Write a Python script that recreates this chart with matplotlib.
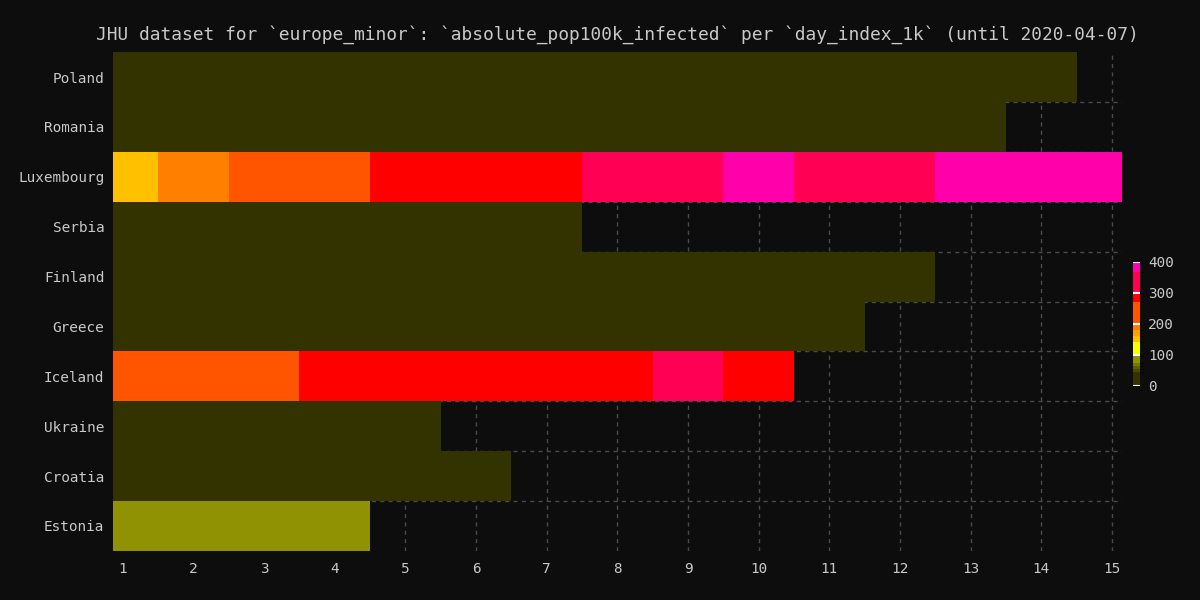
# %% Imports:
import matplotlib
matplotlib.use('Agg')
import matplotlib.pyplot as plt
from matplotlib.colors import ListedColormap, BoundaryNorm
import numpy as np

# Data:
countries = ['Poland', 'Romania', 'Luxembourg', 'Serbia', 'Finland',
             'Greece', 'Iceland', 'Ukraine', 'Croatia', 'Estonia']
days = np.arange(1, 16)

poland = [2, 3, 4, 5, 7, 9, 11, 14, 17, 20, 24, 28, 32, 36]
romania = [2, 3, 4, 6, 8, 10, 13, 16, 19, 23, 27, 31, 35]
luxembourg = [150, 190, 230, 240, 280, 290, 295, 320, 330, 380, 330, 340, 385, 390, 395]
serbia = [3, 5, 8, 12, 17, 22, 28]
finland = [4, 6, 8, 10, 13, 15, 18, 21, 24, 27, 30, 33]
greece = [4, 6, 8, 10, 11, 13, 14, 15, 16, 17, 18]
iceland = [210, 225, 240, 275, 285, 290, 295, 298, 310, 295]
ukraine = [1, 2, 3, 4, 5]
croatia = [8, 12, 16, 20, 24, 28]
estonia = [80, 82, 85, 88]

series = [poland, romania, luxembourg, serbia, finland,
          greece, iceland, ukraine, croatia, estonia]

# colour steps of the palette (value bounds and colours)
bounds = [0, 45, 55, 65, 75, 95, 140, 160, 180, 200, 270, 300, 365, 400]
colors = ['#333300', '#4a4a00', '#5f5f00', '#777700', '#919104', '#ffff00',
          '#ffc000', '#ffa000', '#ff8000', '#ff5500', '#ff0000', '#ff0055', '#ff00aa']

# %% Plotting:
bg = '#0d0d0d'
fg = '#c8c8c8'
fsize = 10.4
plt.rcParams['font.family'] = ['DejaVu Sans Mono']

grid = np.full((len(countries), len(days)), np.nan)
for i, s in enumerate(series):
    grid[i, :len(s)] = s
grid = np.ma.masked_invalid(grid)

cmap = ListedColormap(colors)
norm = BoundaryNorm(bounds, cmap.N)

fig = plt.figure(figsize=(12, 6), dpi=100, facecolor=bg)
ax = fig.add_axes([0.094, 0.082, 0.841, 0.831], facecolor=bg)

xe = np.arange(len(days) + 1) + 0.5
ye = np.arange(len(countries) + 1) - 0.5
mesh = ax.pcolormesh(xe, ye, grid, cmap=cmap, norm=norm,
                     linewidth=0, antialiased=False, zorder=2)

ax.set_xlim(0.86, 15.14)
ax.set_ylim(len(countries) - 0.5, -0.5)
ax.set_xticks(days)
ax.set_yticks(range(len(countries)))
ax.set_yticklabels(countries)
ax.set_yticks(np.arange(len(countries) - 1) + 0.5, minor=True)
ax.tick_params(axis='both', which='both', length=0, colors=fg, labelsize=fsize)
ax.tick_params(axis='x', pad=8)
ax.tick_params(axis='y', pad=6)
ax.set_axisbelow(True)
ax.grid(axis='x', which='major', color='#4a4a4a', linestyle=(0, (3, 3)), linewidth=1, zorder=0)
ax.grid(axis='y', which='minor', color='#4a4a4a', linestyle=(0, (3, 3)), linewidth=1, zorder=0)
for sp in ax.spines.values():
    sp.set_visible(False)

ax.set_title('JHU dataset for `europe_minor`: `absolute_pop100k_infected` '
             'per `day_index_1k` (until 2020-04-07)',
             color=fg, fontsize=12.9, pad=9)

cax = fig.add_axes([0.944, 0.357, 0.006, 0.207])
cb = fig.colorbar(mesh, cax=cax, spacing='proportional', ticks=[0, 100, 200, 300, 400])
cb.outline.set_visible(False)
cax.tick_params(length=0, colors=fg, labelsize=fsize, pad=6)
for v in [0, 100, 200, 300, 400]:
    cax.axhline(v, color='white', linewidth=1.5)

plt.savefig('out.png', dpi=100, facecolor=bg)
